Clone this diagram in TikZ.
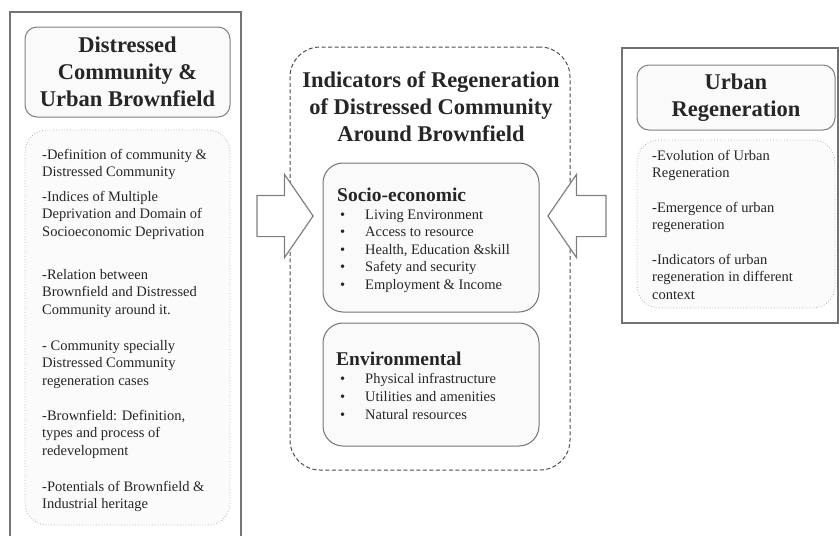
\documentclass[tikz,border=0pt]{standalone}
\usepackage{fontspec}
\setmainfont{Liberation Serif}
\usepackage{xcolor}
\usepackage{tikz}
\usetikzlibrary{positioning, shapes.arrows}

\begin{document}
\begin{tikzpicture}[
    x=1pt, y=-1pt,
    frame line/.style={draw=black!55, line width=1.3pt},
    title box/.style={draw=black!50, line width=1pt, rounded corners=12pt, fill=gray!4},
    topic box/.style={draw=black!30, dotted, line width=0.8pt, rounded corners=22pt, fill=gray!3},
    indicator box/.style={draw=black!55, line width=1pt, rounded corners=20pt, fill=gray!4},
    heading/.style={font=\fontsize{22.5}{26.8}\selectfont\bfseries, text=black!85, align=center, inner sep=0pt},
    sub heading/.style={font=\fontsize{19.5}{22}\selectfont\bfseries, text=black!85, inner sep=0pt, anchor=base west},
    body/.style={font=\fontsize{14.5}{17.5}\selectfont, text=black!85, align=left, inner sep=0pt, anchor=north west},
    block arrow/.style={single arrow, draw=black!50, line width=1.2pt, fill=white,
        inner xsep=0pt, inner ysep=20pt, minimum height=56pt,
        single arrow head extend=21pt, single arrow tip angle=111}
]

\tikzset{item/.style={font=\fontsize{14.5}{17.5}\selectfont, text=black!85, inner sep=0pt, anchor=base west}}

\useasboundingbox (0,0) rectangle (839,536);

% --- 1. Distressed Community & Urban Brownfield ---
\draw[frame line] (10,537) -- (10,12) -- (241,12) -- (241,537);

\node[title box, heading, minimum width=205pt, minimum height=90pt] (dcTitle) at (127.5,72)
    {Distressed\\Community \&\\Urban Brownfield};

\node[topic box, minimum width=205pt, minimum height=395pt] (dcTopics) at (127.5,327.5) {};

\node[body] (dcDef) at (42,149) {-Definition of community \&\\Distressed Community};
\node[body] (dcIndex) at (42,191) {-Indices of Multiple\\Deprivation and Domain of\\Socioeconomic Deprivation};
\node[body] (dcRel) at (42,269) {-Relation between\\Brownfield and Distressed\\Community around it.};
\node[body] (dcCase) at (42,340) {- Community specially\\Distressed Community\\regeneration cases};
\node[body] (dcBrown) at (42,410) {-Brownfield: Definition,\\types and process of\\redevelopment};
\node[body] (dcHeritage) at (42,481) {-Potentials of Brownfield \&\\Industrial heritage};

% --- 2. Indicators of Regeneration ---
\node[draw=black!70, dash pattern=on 4pt off 2.5pt, line width=1pt, rounded corners=30pt,
    minimum width=280pt, minimum height=423pt] (indBox) at (430,258.5) {};

\node[heading] (indHead) at (431,107)
    {Indicators of Regeneration\\of Distressed Community\\Around Brownfield};

% Socio-economic
\node[indicator box, minimum width=216pt, minimum height=149pt] (socioBox) at (431,237.5) {};
\node[sub heading] (socioHead) at (337,201.5) {Socio-economic};

\foreach \txt [count=\i] in {Living Environment, Access to resource,
    {Health, Education \&skill}, Safety and security, Employment \& Income}{
    \node[item] (socio-\i) at (340,201.5+17.5*\i) {\makebox[25pt][l]{\textbullet}\txt};
}

% Environmental
\node[indicator box, minimum width=216pt, minimum height=123pt] (envBox) at (431,384.5) {};
\node[sub heading] (envHead) at (336,365.5) {Environmental};

\foreach \txt [count=\i] in {Physical infrastructure, Utilities and amenities, Natural resources}{
    \node[item] (env-\i) at (340,365+18*\i) {\makebox[25pt][l]{\textbullet}\txt};
}

% --- 3. Urban Regeneration ---
\node[frame line, minimum width=216pt, minimum height=275pt] (urFrame) at (730,185.5) {};

\node[title box, heading, minimum width=198pt, minimum height=65pt] (urTitle) at (736,97.5)
    {Urban\\Regeneration};

\node[topic box, minimum width=198pt, minimum height=168pt] (urTopics) at (736,224) {};

\node[body] (urEvol) at (652,150) {-Evolution of Urban\\Regeneration};
\node[body] (urEmerge) at (652,202) {-Emergence of urban\\regeneration};
\node[body] (urIndic) at (652,254) {-Indicators of urban\\regeneration in different\\context};

% --- 4. Block arrows ---
\node[block arrow] (dcArrow) at (278,216) {};
\node[block arrow, shape border rotate=180, minimum height=58pt] (urArrow) at (584,216) {};

\end{tikzpicture}
\end{document}
